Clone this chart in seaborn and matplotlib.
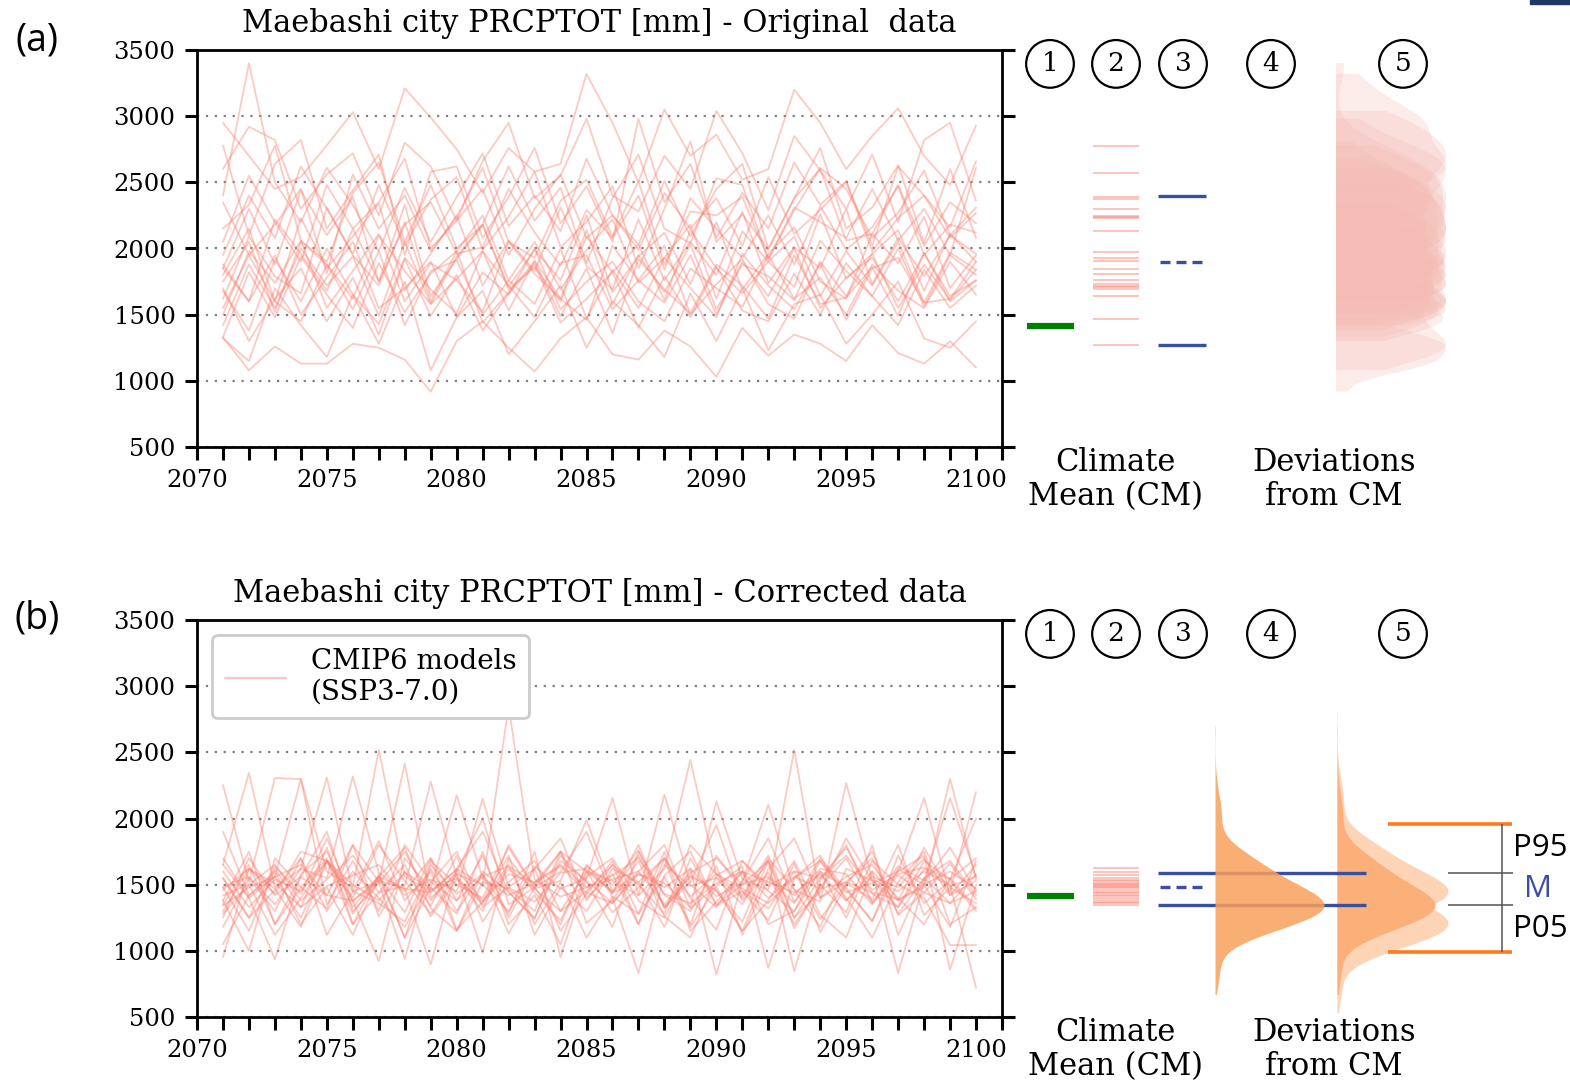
import numpy as np
import pandas as pd
import seaborn as sns
import matplotlib.pyplot as plt
from matplotlib.lines import Line2D
from matplotlib.patches import Rectangle
from matplotlib.ticker import MultipleLocator

# =========================
# data
# =========================
years = list(range(2071, 2101))

# annual PRCPTOT [mm], one list per CMIP6 model - original data
orig_models = [
    [2950, 2700, 2450, 2540, 2780, 3030, 2600, 3210, 2990, 2750,
     2420, 2760, 2580, 2640, 3320, 2950, 2500, 3050, 2700, 2860,
     2520, 2600, 3200, 2950, 2600, 2850, 3060, 2700, 2480, 2930],
    [2600, 2920, 2820, 2300, 2560, 2720, 2250, 2800, 2620, 2210,
     2660, 2950, 2380, 2550, 2980, 2400, 2280, 2700, 2450, 3040,
     2720, 2290, 2850, 2590, 2300, 2710, 2200, 2820, 2950, 2360],
    [2780, 2100, 2640, 2820, 2150, 2440, 2710, 1950, 2580, 2620,
     2080, 2390, 2760, 2190, 2470, 2050, 2980, 2350, 2640, 2080,
     2420, 2150, 2650, 2330, 2510, 2020, 2620, 2400, 2160, 2660],
    [2400, 3400, 2500, 2200, 2610, 2330, 1980, 2460, 2050, 2390,
     2720, 2170, 2400, 2130, 2680, 2250, 2030, 2510, 2090, 2450,
     2640, 2000, 2380, 2760, 2150, 2310, 2630, 2040, 2600, 2080],
    [2150, 2330, 2780, 2060, 1900, 2420, 2650, 2050, 2480, 2000,
     2180, 2620, 2210, 2460, 1890, 2380, 2710, 2150, 2040, 2530,
     2480, 1920, 2290, 2610, 2450, 2080, 2270, 2590, 2100, 2310],
    [1950, 2400, 2080, 2620, 2300, 1960, 2480, 2020, 2370, 2540,
     1990, 2240, 2580, 2010, 2200, 2470, 1850, 2300, 2810, 2050,
     2260, 1990, 2380, 2600, 2060, 2110, 2480, 2020, 2350, 2190],
    [2050, 2550, 2200, 1900, 2480, 2150, 2350, 2680, 2000, 2210,
     2450, 1950, 2300, 2560, 2080, 2250, 1990, 2420, 2150, 2380,
     2020, 2540, 2110, 2290, 2500, 1980, 2230, 2400, 2080, 2270],
    [2350, 1950, 2180, 2450, 1810, 2560, 2150, 2400, 1980, 2240,
     2610, 2050, 1930, 2360, 2520, 2090, 2510, 1880, 2280, 2250,
     2390, 1920, 2310, 2200, 2080, 2450, 2060, 2300, 1950, 2610],
    [1850, 2300, 1880, 2440, 2100, 2390, 1750, 2180, 2350, 1960,
     2010, 2450, 2120, 1870, 2290, 2080, 2400, 1840, 2380, 2150,
     1930, 2250, 1880, 2320, 1990, 2160, 2470, 1950, 2180, 2120],
    [1800, 2150, 1600, 2230, 1850, 2090, 2340, 1680, 1960, 2250,
     1720, 2060, 1830, 2310, 1870, 1690, 2220, 1760, 2050, 1800,
     2280, 1740, 2010, 1850, 2300, 1730, 2080, 1790, 2100, 1960],
    [1620, 2090, 1790, 1660, 2310, 1950, 1720, 2200, 1600, 1980,
     2250, 1760, 2050, 1690, 1990, 2220, 1740, 1930, 2180, 1620,
     2130, 1900, 1710, 2260, 1770, 1960, 2140, 1680, 2110, 1900],
    [1880, 1600, 2220, 1960, 1680, 2150, 1750, 2330, 1640, 1920,
     2180, 1710, 1990, 1760, 2250, 1670, 1940, 2120, 1730, 2200,
     1690, 1960, 2160, 1750, 1620, 2110, 1890, 2240, 1700, 1950],
    [1750, 2050, 1520, 2050, 1880, 1620, 2100, 1830, 1580, 1940,
     2180, 1690, 1860, 1600, 2090, 1820, 2030, 1610, 2140, 1850,
     1660, 1900, 2090, 1640, 1980, 1720, 2050, 1590, 1970, 1840],
    [1500, 1980, 1740, 2060, 1550, 1830, 2110, 1600, 1890, 1760,
     1520, 2050, 1810, 1620, 2140, 1580, 1950, 1670, 2030, 1540,
     1880, 1790, 1610, 2060, 1830, 1640, 2000, 1560, 1950, 1800],
    [1420, 1880, 1550, 2000, 1720, 1940, 1490, 2050, 1580, 1770,
     1980, 1530, 1910, 1620, 1460, 2020, 1760, 1590, 1950, 1500,
     1900, 1640, 2000, 1550, 1780, 1930, 1600, 1960, 1640, 1760],
    [1680, 1380, 1920, 1600, 2000, 1650, 1430, 1930, 1690, 1510,
     1980, 1720, 1480, 1890, 1950, 1540, 1760, 2020, 1500, 1730,
     1920, 1580, 1470, 1900, 1640, 1960, 1550, 1880, 1610, 1840],
    [1850, 1600, 1950, 1500, 1780, 2050, 1550, 1700, 1900, 1480,
     1820, 1650, 2000, 1540, 1750, 1900, 1600, 1450, 1850, 1700,
     1560, 1950, 1620, 1780, 1500, 1880, 1680, 1550, 1900, 1650],
    [1550, 1950, 1600, 1450, 1880, 1540, 1980, 1420, 1830, 1910,
     1500, 1760, 1580, 2000, 1470, 1840, 1550, 1930, 1700, 1480,
     1960, 1720, 1540, 1890, 1460, 1850, 1930, 1590, 1620, 1900],
    [1330, 1820, 1480, 1940, 1650, 1400, 1890, 1520, 1810, 1980,
     1440, 1670, 1900, 1490, 1850, 1360, 1920, 1690, 1510, 1880,
     1720, 1470, 1950, 1580, 1630, 1860, 1490, 1970, 1600, 1760],
    [1700, 1300, 1620, 1850, 1450, 1780, 1350, 1920, 1490, 1800,
     1380, 1660, 1880, 1440, 1620, 1820, 1400, 1790, 1480, 1860,
     1530, 1450, 1810, 1500, 1890, 1640, 1420, 1840, 1550, 1720],
    [1320, 1150, 1700, 1420, 1180, 1650, 1280, 1750, 1080, 1480,
     1680, 1200, 1450, 1720, 1250, 1600, 1420, 1180, 1660, 1300,
     1700, 1230, 1580, 1650, 1280, 1500, 1750, 1320, 1250, 1450],
    [1330, 1080, 1260, 1130, 1130, 1280, 1250, 1160, 918, 1300,
     1450, 1250, 1070, 1320, 1480, 1200, 1160, 1380, 1260, 1030,
     1400, 1190, 1350, 1280, 1150, 1420, 1210, 1130, 1300, 1100],
]

# corrected data
corr_models = [
    [1650, 2344, 1480, 1620, 1550, 2318, 1590, 1450, 1700, 1380,
     1560, 1640, 1510, 1750, 1600, 1530, 1420, 1620, 2443, 1570,
     1680, 1490, 1600, 1550, 1720, 1460, 1580, 1630, 1540, 1700],
    [2253, 1520, 2306, 2298, 1600, 1480, 2518, 1560, 1450, 1610,
     1380, 1580, 1520, 1650, 1480, 1540, 1600, 1350, 1590, 1700,
     1500, 1560, 1420, 1620, 1580, 1350, 1640, 1530, 2155, 1560],
    [1480, 1560, 1350, 1620, 2310, 1450, 1520, 2414, 1400, 1580,
     1500, 1300, 1640, 1470, 1550, 2155, 1420, 2180, 1500, 1330,
     1600, 1520, 1440, 1580, 1380, 1560, 1480, 1700, 1420, 1530],
    [1420, 1500, 1650, 1380, 1540, 1720, 1440, 1490, 2278, 1560,
     1350, 1620, 1470, 1530, 1989, 1450, 1580, 1510, 1330, 2130,
     1540, 1460, 2518, 1400, 1560, 1650, 1380, 1500, 1600, 1470],
    [1600, 1330, 1540, 1450, 1680, 1500, 1380, 1590, 1470, 2175,
     1550, 1420, 1510, 1640, 1440, 1360, 1580, 1480, 1620, 1410,
     1520, 2104, 1460, 1370, 2268, 1540, 1450, 1600, 1490, 1560],
    [1460, 1620, 1510, 1330, 1490, 1570, 1650, 1420, 1540, 1450,
     2150, 1480, 1370, 1590, 1620, 1440, 1520, 1700, 1410, 1580,
     1470, 1360, 1550, 1680, 1440, 1510, 1600, 2155, 1420, 1650],
    [1340, 1480, 1560, 1650, 1420, 1380, 1530, 1470, 1440, 1620,
     1500, 2850, 1540, 1410, 1480, 1570, 1700, 1430, 1360, 1510,
     1600, 1400, 1560, 1470, 1520, 1440, 1390, 1480, 2300, 1540],
    [1900, 1420, 1560, 1250, 1680, 1450, 1830, 1380, 1600, 1150,
     1520, 1470, 1300, 1750, 1400, 1580, 1200, 1650, 1490, 1550,
     1350, 1700, 1460, 1180, 1620, 1530, 1380, 1780, 1440, 2200],
    [1550, 1250, 1640, 1430, 1850, 1370, 1560, 1100, 1680, 1500,
     1400, 1780, 1470, 1300, 1600, 1450, 1720, 1330, 1520, 1950,
     1380, 1590, 1200, 1480, 1700, 1360, 1570, 1440, 1660, 1390],
    [1250, 1700, 1420, 1560, 1900, 1300, 1510, 1750, 1380, 1600,
     2000, 1350, 1480, 1200, 1650, 1430, 1800, 1320, 1570, 1460,
     1150, 1620, 1850, 1400, 1520, 1700, 1280, 1550, 1680, 1420],
    [953, 1620, 1430, 1750, 1680, 1380, 922, 1700, 1460, 1550,
     1300, 1800, 1480, 1600, 1900, 1400, 832, 1570, 1750, 1350,
     1500, 1680, 1250, 1450, 1850, 1530, 1330, 1620, 1500, 720],
    [1380, 1000, 1700, 1480, 1320, 1800, 1520, 938, 1650, 1430,
     1580, 1280, 1750, 953, 1560, 1700, 1380, 1250, 1620, 820,
     1530, 1850, 1370, 1600, 1250, 1680, 1500, 1400, 1044, 1044],
    [1650, 1400, 937, 1580, 1750, 1330, 1560, 1470, 897, 1620,
     1900, 1440, 1250, 1680, 1530, 1360, 1600, 1800, 1320, 1490,
     1640, 870, 1550, 1720, 1380, 1600, 832, 1520, 1780, 1450],
    [1300, 1620, 1470, 1180, 1680, 1400, 1800, 1530, 1280, 1580,
     986, 1700, 1440, 1230, 1640, 1500, 1760, 1330, 1560, 1450,
     1220, 1680, 845, 1530, 1800, 1370, 1600, 1720, 857, 1500],
    [1550, 1250, 1460, 1700, 1300, 1600, 1400, 1180, 1520, 1750,
     1330, 1480, 1620, 1150, 1430, 1680, 1280, 1560, 1200, 1720,
     1450, 1320, 1600, 1240, 1510, 1390, 1800, 1270, 1480, 1360],
    [1350, 1650, 1200, 1480, 1700, 1280, 1560, 1780, 1320, 1150,
     1600, 1450, 1240, 1720, 1520, 1180, 1750, 1420, 1300, 1640,
     1120, 1550, 1360, 1700, 1460, 1230, 1620, 1500, 1180, 1680],
    [1480, 1150, 1620, 1330, 1780, 1200, 1440, 1650, 1260, 1540,
     1370, 1720, 1120, 1480, 1300, 1620, 1520, 1180, 1700, 1340,
     1450, 1230, 1660, 1140, 1500, 1750, 1270, 1440, 1360, 1580],
    [1180, 1550, 1300, 1700, 1120, 1450, 1360, 1220, 1620, 1300,
     1580, 1130, 1480, 1750, 1210, 1380, 1680, 1260, 1100, 1560,
     1400, 1680, 1170, 1500, 1290, 1800, 1120, 1550, 1360, 1450],
    [1280, 1500, 1120, 1400, 1680, 1200, 1580, 1100, 1480, 1280,
     1750, 1200, 1420, 1050, 1600, 1290, 1480, 1700, 1150, 1370,
     1600, 1200, 1300, 1680, 1400, 1100, 1520, 1750, 1200, 1330],
    [1050, 1420, 1600, 1200, 1480, 1120, 1560, 1290, 1700, 1160,
     1370, 1650, 1200, 1520, 1100, 1410, 1280, 1750, 1180, 1480,
     1150, 1380, 1680, 1270, 1100, 1600, 1400, 1200, 1550, 1320],
    [1700, 1400, 1560, 2300, 1350, 1680, 1300, 1800, 1520, 1380,
     1720, 1250, 1620, 1850, 1380, 1650, 1500, 1280, 1800, 1580,
     1420, 1720, 1250, 1550, 1780, 1430, 1330, 1680, 1540, 2000],
    [1380, 1750, 1200, 1560, 1420, 1800, 1260, 1600, 1340, 1720,
     1220, 1520, 1680, 1300, 1450, 1650, 1200, 1700, 1400, 1160,
     1680, 1450, 1300, 1600, 1480, 1220, 1720, 1360, 1530, 1300],
]

# climate means (CM) of each model, column 2
cm_orig = [2777, 2569, 2392, 2372, 2299, 2245, 2236, 2228, 2133, 1971, 1931,
           1906, 1848, 1810, 1762, 1730, 1720, 1710, 1697, 1644, 1470, 1271]
cm_corr = [1624, 1598, 1573, 1552, 1535, 1528, 1515, 1505, 1495, 1488, 1480,
           1473, 1460, 1447, 1435, 1422, 1418, 1397, 1385, 1370, 1359, 1346]
obs_cm = 1412                       # observed climate mean, column 1
cm_pct_orig = [2395, 1898, 1270]    # P95, M, P05 of model CMs, column 3
cm_pct_corr = [1588, 1483, 1346]
total_pct_corr = [1960, 990]        # P95 / P05 of CM + deviations, column 5

yticks = [500, 1000, 1500, 2000, 2500, 3000, 3500]
xticks = [2070, 2075, 2080, 2085, 2090, 2095, 2100]

# =========================
# style
# =========================
sns.set_style("ticks")
plt.rcParams["font.family"] = ["DejaVu Serif"]
plt.rcParams.update({"axes.edgecolor": "black", "xtick.color": "black",
                     "ytick.color": "black", "text.color": "black"})

LINE_C = "salmon"
VIOLIN_C = "#f4bcb5"
BLUE = "#3a4ea3"
ORANGE = "#f9a05c"
ORANGE2 = "#fbb07a"
PEACH = "#fdd4b6"
SANS = "Open Sans"

W, H = 1570, 1084
fig = plt.figure(figsize=(W / 100, H / 100), dpi=100)


def box(x0, x1, top, bot):
    return [x0 / W, 1 - bot / H, (x1 - x0) / W, (bot - top) / H]


def to_long(models):
    rows = []
    for i, vals in enumerate(models):
        for yr, v in zip(years, vals):
            rows.append((f"m{i:02d}", yr, v))
    return pd.DataFrame(rows, columns=["model", "year", "value"])


def fit_width(a):
    xmax = max(p.vertices[:, 0].max() for c in a.collections for p in c.get_paths())
    a.set_xlim(0, xmax)
    a.set_ylim(500, 3500)
    a.axis("off")


def panel(top, bot, models, cms, pct, title, letter, letter_y, blue_end):
    df = to_long(models)
    ax = fig.add_axes(box(197, 1002, top, bot))
    sns.lineplot(data=df, x="year", y="value", units="model", estimator=None,
                 color=LINE_C, alpha=0.42, lw=1.3, ax=ax, legend=False)
    ax.set(xlim=(2070, 2101), ylim=(500, 3500), xlabel="", ylabel="")
    ax.set_xticks(xticks)
    ax.set_yticks(yticks)
    ax.xaxis.set_minor_locator(MultipleLocator(1))
    ax.grid(axis="y", color="#7f7f7f", ls=(0, (1, 3)), lw=1.6)
    ax.set_axisbelow(True)
    ax.tick_params(which="both", direction="out", length=9, width=2.2,
                   labelsize=17.5, pad=6.5)
    ax.tick_params(axis="y", right=True)
    for s in ax.spines.values():
        s.set_linewidth(2)
    ax.set_title(title, fontsize=22, pad=13)
    fig.text(37 / W, 1 - letter_y / H, letter, family=SANS, fontsize=27,
             ha="center", va="center")

    side = fig.add_axes(box(1002, W, top, bot), zorder=3)
    side.set_xlim(1002, W)
    side.set_ylim(500, 3500)
    side.axis("off")
    xt = side.get_xaxis_transform()
    for x, n in zip([1050, 1116, 1183, 1271, 1403], "12345"):
        side.text(x, 0.965, n, transform=xt, ha="center", va="center", fontsize=19,
                  bbox=dict(boxstyle="circle,pad=0.43", fc="white", ec="black", lw=1.6))
    side.hlines(obs_cm, 1027, 1074, color="green", lw=4.5)
    side.hlines(cms, 1093, 1139, color=LINE_C, alpha=0.5, lw=1.3)
    side.hlines([pct[0], pct[2]], 1158, blue_end, color=BLUE, lw=2.4)
    side.plot([1160, 1205], [pct[1], pct[1]], color=BLUE, lw=2.4, ls=(0, (3, 1.8)))
    side.text(1115, -0.082, "Climate\nMean (CM)", transform=xt, ha="center",
              va="center", fontsize=22, linespacing=1.15)
    side.text(1334, -0.082, "Deviations\nfrom CM", transform=xt, ha="center",
              va="center", fontsize=22, linespacing=1.15)
    return ax, side, df


# =========================
# (a) original data
# =========================
ax_a, side_a, df_a = panel(50, 447, orig_models, cm_orig, cm_pct_orig,
                           "Maebashi city PRCPTOT [mm] - Original  data",
                           "(a)", 41, 1206)
df_a["pos"] = 0
va = fig.add_axes(box(1336, 1446, 50, 447), zorder=1)
sns.violinplot(data=df_a, x="pos", y="value", hue="model", dodge=False, cut=0,
               density_norm="width", inner=None, linewidth=0, saturation=1,
               palette=[VIOLIN_C] * len(orig_models), legend=False, ax=va)
for c in va.collections:
    c.set_alpha(0.28)
    c.set_edgecolor("none")
fit_width(va)

# =========================
# (b) corrected data
# =========================
ax_b, side_b, df_b = panel(620, 1017, corr_models, cm_corr, cm_pct_corr,
                           "Maebashi city PRCPTOT [mm] - Corrected data",
                           "(b)", 618, 1366)
handle = Line2D([], [], color=LINE_C, alpha=0.45, lw=1.5)
leg = ax_b.legend([handle], ["CMIP6 models\n(SSP3-7.0)"], loc="upper left",
                  fontsize=20, handlelength=2.2, handletextpad=0.9, borderpad=0.45,
                  borderaxespad=0.55, frameon=True, fancybox=True,
                  edgecolor="#cccccc", framealpha=1)
leg.get_frame().set_linewidth(2)
for t in leg.get_texts():
    t.set_linespacing(1.2)

# deviations from each model's own climate mean, added to the observed CM
dev = np.concatenate([np.array(m) - np.mean(m) for m in corr_models])

k4 = fig.add_axes(box(1215, 1324, 620, 1017), zorder=4)
sns.kdeplot(y=obs_cm + dev, fill=True, cut=0, bw_adjust=1.5, color=ORANGE,
            alpha=0.85, linewidth=0, ax=k4)
fit_width(k4)

k5 = fig.add_axes(box(1337, 1448, 620, 1017), zorder=1)
for shift in [cm_pct_corr[0] - cm_pct_corr[1], cm_pct_corr[2] - cm_pct_corr[1]]:
    sns.kdeplot(y=obs_cm + dev + shift, fill=True, cut=0, bw_adjust=1.5,
                color=PEACH, alpha=1, linewidth=0, ax=k5)
fit_width(k5)

k5o = fig.add_axes(box(1337, 1435, 620, 1017), zorder=2)
sns.kdeplot(y=obs_cm + dev, fill=True, cut=0, bw_adjust=1.5, color=ORANGE2,
            alpha=1, linewidth=0, ax=k5o)
fit_width(k5o)

side_b.hlines(total_pct_corr, 1388, 1512, color="#ff7a1a", lw=2.6)
side_b.vlines(1502, total_pct_corr[1], total_pct_corr[0], color="#555555", lw=1.1)
side_b.hlines([cm_pct_corr[0], cm_pct_corr[2]], 1448, 1513, color="#555555", lw=1.1)
side_b.text(1513, (total_pct_corr[0] + cm_pct_corr[0]) / 2, "P95", family=SANS,
            fontsize=22.5, ha="left", va="center")
side_b.text(1524, (cm_pct_corr[0] + cm_pct_corr[2]) / 2, "M", family=SANS,
            fontsize=22.5, ha="left", va="center", color=BLUE)
side_b.text(1513, (cm_pct_corr[2] + total_pct_corr[1]) / 2, "P05", family=SANS,
            fontsize=22.5, ha="left", va="center")

fig.patches.append(Rectangle((1530 / W, 1 - 4 / H), 40 / W, 4 / H,
                             transform=fig.transFigure, color="#1f3864"))

plt.savefig("out.png", dpi=100)
